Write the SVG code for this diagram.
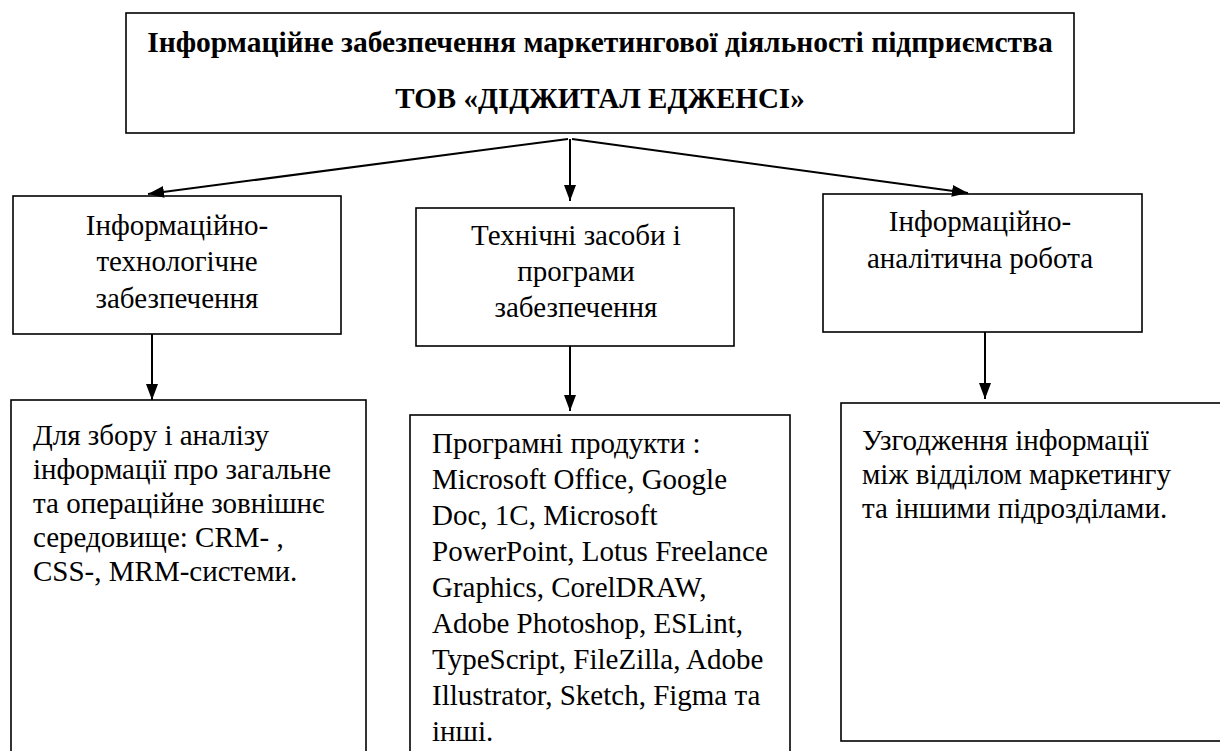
<svg xmlns="http://www.w3.org/2000/svg" width="1220" height="751" viewBox="0 0 1220 751">
<style>
.box{fill:none;stroke:#000;stroke-width:1.6}
text{font-family:'Liberation Serif','Times New Roman',Tinos,'DejaVu Serif',serif;font-size:29px;fill:#000}
.c{text-anchor:middle}
.b{font-weight:bold}
.conn{stroke:#000;stroke-width:2;fill:none;marker-end:url(#ah)}
</style>
<defs>
<marker id="ah" markerUnits="userSpaceOnUse" markerWidth="18" markerHeight="14" viewBox="0 0 18 14" refX="16" refY="7" orient="auto">
<path d="M0,1 L16,7 L0,13 Z" fill="#000"/>
</marker>
</defs>
<rect width="1220" height="751" fill="#fff"/>
<g font-family="Liberation Serif, serif">
<g id="top">
<rect class="box" x="126" y="13" width="948" height="120"/>
<text class="c b" x="600" y="52" style="font-size:29.5px">Інформаційне забезпечення маркетингової діяльності підприємства</text>
<text class="c b" x="600" y="108">ТОВ «ДІДЖИТАЛ ЕДЖЕНСІ»</text>
</g>
<g id="n1">
<rect class="box" x="13" y="196" width="328" height="138"/>
<text class="c" x="177" y="235">Інформаційно-</text>
<text class="c" x="177" y="271">технологічне</text>
<text class="c" x="177" y="308">забезпечення</text>
</g>
<g id="n2">
<rect class="box" x="416" y="208" width="318" height="138"/>
<text class="c" x="576" y="245">Технічні засоби і</text>
<text class="c" x="576" y="281">програми</text>
<text class="c" x="576" y="317">забезпечення</text>
</g>
<g id="n3">
<rect class="box" x="823" y="194" width="319" height="138"/>
<text class="c" x="980" y="231">Інформаційно-</text>
<text class="c" x="980" y="268">аналітична робота</text>
</g>
<g id="n4">
<rect class="box" x="11" y="400" width="355" height="370"/>
<text x="33" y="445">Для збору і аналізу</text>
<text x="33" y="479">інформації про загальне</text>
<text x="33" y="513">та операційне зовнішнє</text>
<text x="33" y="547">середовище: CRM- ,</text>
<text x="33" y="581">CSS-, MRM-системи.</text>
</g>
<g id="n5">
<rect class="box" x="410" y="415" width="380" height="370"/>
<text x="432" y="453">Програмні продукти :</text>
<text x="432" y="489">Microsoft Office, Google</text>
<text x="432" y="525">Doc, 1C, Microsoft</text>
<text x="432" y="561">PowerPoint, Lotus Freelance</text>
<text x="432" y="597">Graphics, CorelDRAW,</text>
<text x="432" y="633">Adobe Photoshop, ESLint,</text>
<text x="432" y="669">TypeScript, FileZilla, Adobe</text>
<text x="432" y="705">Illustrator, Sketch, Figma та</text>
<text x="432" y="741">інші.</text>
</g>
<g id="n6">
<rect class="box" x="841" y="403" width="400" height="338"/>
<text x="862" y="450">Узгодження інформації</text>
<text x="862" y="484">між відділом маркетингу</text>
<text x="862" y="518">та іншими підрозділами.</text>
</g>
</g>
<g id="connectors">
<line class="conn" x1="568" y1="139" x2="148" y2="194"/>
<line class="conn" x1="570" y1="139" x2="570" y2="201"/>
<line class="conn" x1="572" y1="139" x2="968" y2="193"/>
<line class="conn" x1="152" y1="334" x2="152" y2="400"/>
<line class="conn" x1="570" y1="346" x2="570" y2="411"/>
<line class="conn" x1="985" y1="332" x2="985" y2="399"/>
</g>
</svg>
